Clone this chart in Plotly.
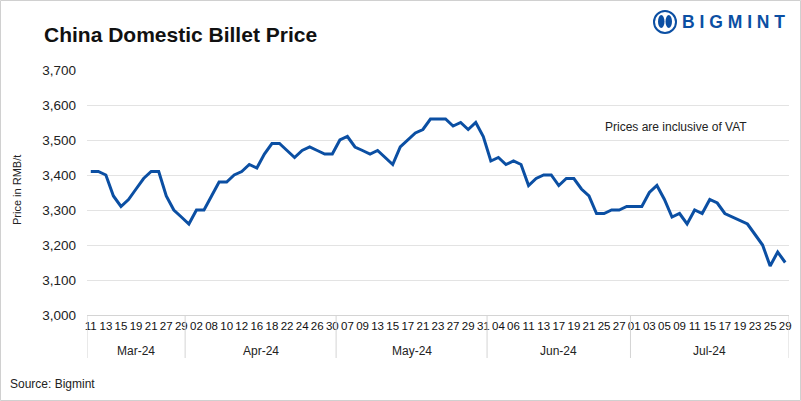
import plotly.graph_objects as go

months = ["Mar-24", "Apr-24", "May-24", "Jun-24", "Jul-24"]
days_mar = ["11", "12", "13", "14", "15", "18", "19", "20", "21", "22", "27", "28", "29"]
days_apr = ["01", "02", "03", "08", "09", "10", "11", "12", "15", "16", "17", "18", "19", "22", "23", "24", "25", "26", "29", "30"]
days_may = ["06", "07", "08", "09", "10", "13", "14", "15", "16", "17", "20", "21", "22", "23", "24", "27", "28", "29", "30", "31"]
days_jun = ["03", "04", "05", "06", "07", "11", "12", "13", "14", "17", "18", "19", "20", "21", "24", "25", "26", "27", "28"]
days_jul = ["01", "02", "03", "04", "05", "08", "09", "10", "11", "12", "15", "16", "17", "18", "19", "22", "23", "24", "25", "26", "29"]
month_days = [days_mar, days_apr, days_may, days_jun, days_jul]

price_mar = [3410, 3410, 3400, 3340, 3310, 3330, 3360, 3390, 3410, 3410, 3340, 3300, 3280]
price_apr = [3260, 3300, 3300, 3340, 3380, 3380, 3400, 3410, 3430, 3420, 3460, 3490, 3490, 3470, 3450, 3470, 3480, 3470, 3460, 3460]
price_may = [3500, 3510, 3480, 3470, 3460, 3470, 3450, 3430, 3480, 3500, 3520, 3530, 3560, 3560, 3560, 3540, 3550, 3530, 3550, 3510]
price_jun = [3440, 3450, 3430, 3440, 3430, 3370, 3390, 3400, 3400, 3370, 3390, 3390, 3360, 3340, 3290, 3290, 3300, 3300, 3310]
price_jul = [3310, 3310, 3350, 3370, 3330, 3280, 3290, 3260, 3300, 3290, 3330, 3320, 3290, 3280, 3270, 3260, 3230, 3200, 3140, 3180, 3150]
month_prices = [price_mar, price_apr, price_may, price_jun, price_jul]

y_ticks = [3000, 3100, 3200, 3300, 3400, 3500, 3600, 3700]

title_text = "China Domestic Billet Price"
y_title = "Price in RMB/t"
note_text = "Prices are inclusive of VAT"
source_text = "Source: Bigmint"
brand_text = "BIGMINT"

# flatten
day_labels = [d for ds in month_days for d in ds]
prices = [p for ps in month_prices for p in ps]
idx = list(range(len(prices)))

# plot-area geometry (pixels)
W, H = 801, 401
L, R, T, B = 87, 789, 70, 315
pw, ph = R - L, B - T


def px(xp):
    return (xp - L) / pw


def py(yp):
    return (B - yp) / ph


LINE = "#0b4fa3"
GRID = "#e3e3e3"
AX = "#d4d4d4"
FONT = "Liberation Sans"

fig = go.Figure()
fig.add_trace(go.Scatter(x=idx, y=prices, mode="lines",
                         line=dict(color=LINE, width=3), hoverinfo="x+y"))

shapes = []
annotations = []

# month dividers and labels
start = 0
for m, ds in zip(months, month_days):
    end = start + len(ds) - 1
    shapes.append(dict(type="line", xref="x", yref="paper", x0=start - 0.5, x1=start - 0.5,
                       y0=0, y1=py(358), line=dict(color=AX, width=1)))
    annotations.append(dict(xref="x", yref="paper", x=(start + end) / 2, y=py(351),
                            text=m, showarrow=False, yanchor="middle",
                            font=dict(family=FONT, size=12, color="#222")))
    start = end + 1
shapes.append(dict(type="line", xref="x", yref="paper", x0=start - 0.5, x1=start - 0.5,
                   y0=0, y1=py(358), line=dict(color=AX, width=1)))

# outer border
shapes.append(dict(type="rect", xref="paper", yref="paper",
                   x0=px(0.5), x1=px(W - 0.5), y0=py(H - 0.5), y1=py(0.5),
                   line=dict(color="#d0d0d0", width=1)))

# logo circle
shapes.append(dict(type="circle", xref="paper", yref="paper",
                   x0=px(654), x1=px(676), y0=py(33), y1=py(11),
                   line=dict(color=LINE, width=2), fillcolor="white"))
shapes.append(dict(type="circle", xref="paper", yref="paper",
                   x0=px(658), x1=px(664.5), y0=py(28), y1=py(15),
                   line=dict(width=0), fillcolor=LINE))
shapes.append(dict(type="circle", xref="paper", yref="paper",
                   x0=px(665.5), x1=px(672), y0=py(28), y1=py(15),
                   line=dict(width=0), fillcolor=LINE))

annotations += [
    dict(xref="paper", yref="paper", x=px(42), y=py(34), text="<b>" + title_text + "</b>",
         showarrow=False, xanchor="left", yanchor="middle",
         font=dict(family=FONT, size=21, color="#111")),
    dict(xref="paper", yref="paper", x=px(680), y=py(22), text="<b>" + " ".join(brand_text) + "</b>",
         showarrow=False, xanchor="left", yanchor="middle",
         font=dict(family=FONT, size=17.5, color=LINE)),
    dict(xref="paper", yref="paper", x=px(17), y=py(190), text=y_title, textangle=-90,
         showarrow=False, xanchor="center", yanchor="middle",
         font=dict(family=FONT, size=11, color="#222")),
    dict(xref="paper", yref="paper", x=px(676), y=py(127), text=note_text,
         showarrow=False, xanchor="center", yanchor="middle",
         font=dict(family=FONT, size=12, color="#222")),
    dict(xref="paper", yref="paper", x=px(8), y=py(384), text=source_text,
         showarrow=False, xanchor="left", yanchor="middle",
         font=dict(family=FONT, size=12, color="#222")),
]

fig.update_layout(
    width=W, height=H,
    margin=dict(l=L, r=W - R, t=T, b=H - B, autoexpand=False),
    paper_bgcolor="white", plot_bgcolor="white",
    showlegend=False,
    shapes=shapes, annotations=annotations,
    xaxis=dict(range=[-0.5, len(prices) - 0.5], tickmode="array",
               tickvals=idx[::2], ticktext=day_labels[::2], tickangle=0,
               showgrid=False, zeroline=False, showline=True, linecolor=AX,
               automargin=False,
               ticks="", tickfont=dict(family=FONT, size=11.5, color="#111")),
    yaxis=dict(range=[3000, 3700], tickmode="array", tickvals=y_ticks,
               tickformat=",", showgrid=True, gridcolor=GRID, zeroline=False,
               showline=False, ticks="", ticklabelstandoff=10, automargin=False,
               tickfont=dict(family=FONT, size=13.5, color="#222")),
)

fig.write_html("out.html", config={"displayModeBar": False, "responsive": False},
               post_script="document.body.style.margin='0';document.body.style.overflow='hidden';")
